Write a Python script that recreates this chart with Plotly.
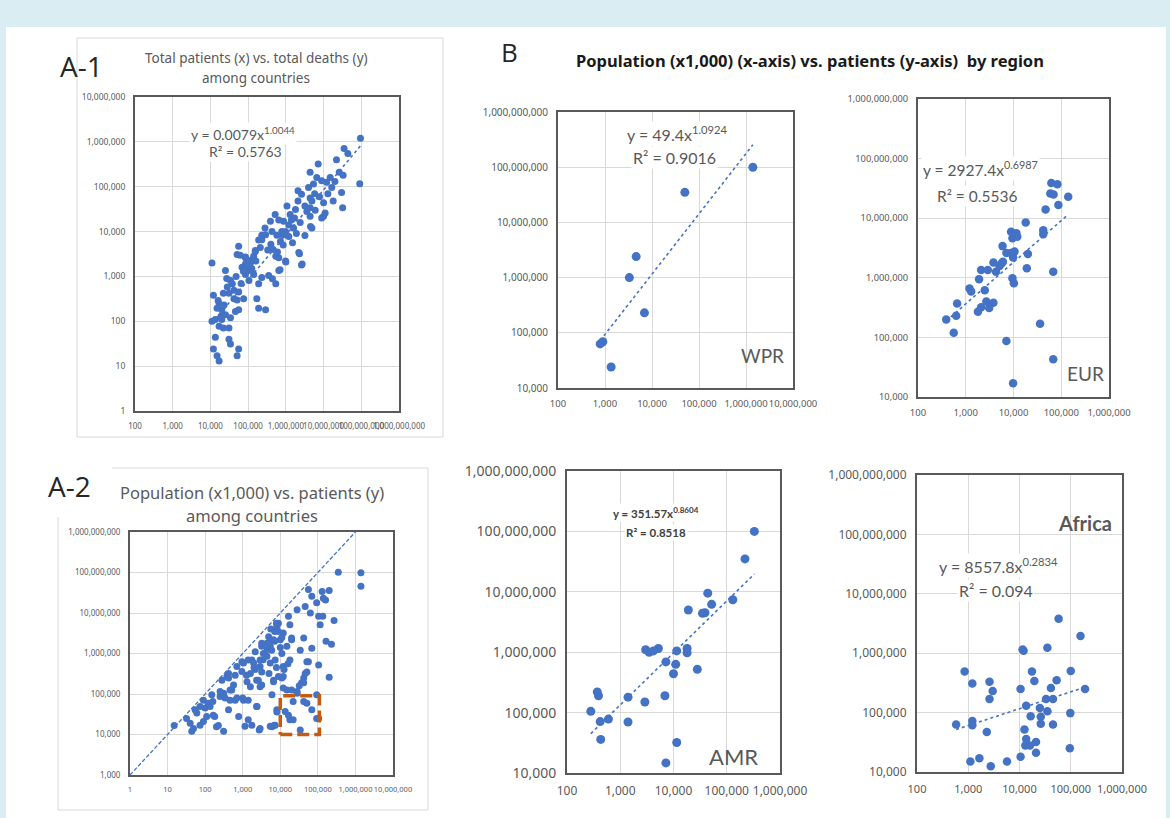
import plotly.graph_objects as go

W, H = 1170, 818

# ---------------- data ----------------
# A-1: total patients (x) vs total deaths (y)
a1_patients = [1.1e4, 1.2e4, 1.1e4, 1.2e4, 1.5e4, 1.7e4, 1.35e4, 3.1e4, 3.4e4, 5.6e4,
               5.1e4, 1.7e4, 2.0e4, 1.9e4, 2.5e4, 1.7e4, 2.2e4, 3.1e4, 3.4e4, 1.35e4,
               2.5e4, 3.4e4, 3.8e4, 4.2e4, 3.1e4, 2.2e4, 5.6e4, 5.1e4, 5.6e4, 4.6e4,
               7.6e4, 1.7e5, 1.9e5, 2.9e5, 6.9e4, 8.5e4, 1.05e5, 8.5e4, 1.15e5, 5.6e4,
               5.1e4, 8.5e4, 1.4e5, 1.55e5, 2.1e5, 2.3e5, 2.9e5, 1.9e5, 2.3e5, 3.5e5,
               4.4e5, 5.4e5, 6.5e5, 9.8e5, 5.4e5, 6.5e5, 7.2e5, 8.0e5, 9.8e5, 1.2e6,
               1.5e6, 2.2e6, 2.7e6, 4.5e6, 1.5e4, 2.0e4, 2.8e4, 4.2e4, 1.05e5, 1.4e5,
               9.5e7, 3.5e7, 4.4e7, 9.1e7, 2.2e7, 2.6e7, 3.3e7, 7.2e6, 4.4e6, 6.6e6,
               8.9e6, 1.2e7, 1.65e7, 4.0e6, 5.4e6, 3.0e7, 3.2e7, 2.6e6, 4.4e6, 4.9e6,
               1.0e7, 1.1e7, 8.9e6, 2.1e6, 1.07e6, 1.8e6, 1.3e6, 4.4e6, 4.9e6, 4.4e6,
               5.2e5, 6.5e5, 3.9e5, 2.8e5, 8.7e5, 1.2e6, 1.6e6, 1.9e6, 2.3e5, 1.9e5,
               1.55e5, 4.3e5, 5.8e5, 7.8e5, 1.07e6, 8.5e4, 2.1e6, 3.2e6, 1.8e7, 1.0e7,
               2.6e6, 3.2e6, 1.0e6, 7.0e5, 2.3e6, 6.2e4, 1.25e5,
               1.6e4, 2.3e4, 2.7e4, 4.8e4, 6.5e4, 7.5e4, 9.5e4, 1.2e5, 1.6e5, 3.3e5,
               4.0e5, 4.6e5, 6.0e5, 8.5e5, 1.4e6, 1.7e6, 2.4e6, 3.6e6, 5.8e6, 6.0e6,
               7.8e6, 1.3e7, 1.5e7, 2.0e7]
a1_deaths = [2.0e3, 380, 100, 24, 17, 13, 44, 40, 31, 24,
             17, 250, 180, 130, 140, 78, 71, 71, 120, 110,
             1350, 810, 690, 490, 420, 420, 450, 300, 180, 165,
             320, 320, 195, 180, 1600, 1100, 1350, 1900, 2000, 4700,
             3100, 2600, 2800, 3600, 4400, 6600, 8500, 690, 950, 1050,
             890, 690, 1350, 2200, 2800, 2600, 6000, 8500, 1.0e4, 7800,
             5600, 3400, 1900, 1.3e4, 195, 110, 580, 320, 810, 1100,
             1.2e6, 7.1e5, 5.5e5, 1.17e5, 4.0e5, 2.1e5, 1.8e5, 3.2e5, 2.1e5, 1.6e5,
             1.35e5, 1.25e5, 9.6e4, 9.6e4, 1.15e5, 7.4e4, 3.4e4, 6.8e4, 5.6e4, 4.8e4,
             4.4e4, 2.6e4, 2.0e4, 4.8e4, 3.7e4, 3.1e4, 2.4e4, 2.2e4, 1.2e4, 3.4e4,
             2.4e4, 1.8e4, 1.7e4, 1.2e4, 1.7e4, 1.4e4, 1.2e4, 9100, 8300, 6500,
             3800, 1.0e4, 8300, 1.0e4, 8300, 2700, 8.1e4, 3.7e4, 4.8e4, 2.2e4,
             1800, 8200, 2100, 1400, 3200, 2950, 1500,
             290, 230, 900, 1000, 700, 1300, 1700, 2300, 2200, 3900,
             5200, 4000, 3500, 5000, 1.8e4, 2.0e4, 1.6e4, 2.8e4, 7.0e4, 3.0e4,
             6.0e4, 7.0e4, 1.6e5, 1.3e5]
a1_fit_coef, a1_fit_exp = 0.0079, 1.0044

# A-2: population (x1,000) vs patients
a2_population = [15, 32, 40, 44, 49, 60, 73, 100, 90, 73,
                 54, 135, 150, 165, 225, 310, 250, 310, 280, 380,
                 420, 510, 460, 420, 630, 780, 700, 1050, 1050, 1400,
                 1260, 1600, 1150, 1400, 1750, 2350, 2750, 1750, 2150, 2350,
                 2900, 2900, 3550, 3200, 4400, 4900, 5400, 4400, 5400, 5900,
                 6600, 8100, 8900, 7300, 6600, 5400, 7300, 8100, 1.0e4, 1.1e4,
                 1.2e4, 1.2e4, 8900, 1.1e4, 1.5e4, 1.65e4, 1.8e4, 2.0e4, 1.8e4, 1.5e4,
                 1.35e4, 1.65e4, 1.8e4, 3.4e4, 2.8e4, 2.8e4, 3.4e4, 4.2e4, 4.6e4, 6.3e4,
                 4.6e4, 5.1e4, 4.2e4, 5.1e4, 6.9e4, 6.9e4, 5.6e4, 6.9e4, 9.3e4, 1.05e5,
                 1.15e5, 1.35e5, 1.3e5, 1.4e5, 1.05e5, 9.3e4, 9.3e4, 1.65e5, 2.0e5, 2.3e5,
                 2.7e5, 2.0e5, 3.5e5, 1.4e6, 1.4e6, 90, 110, 120, 160, 180,
                 200, 250, 340, 700, 1000, 460, 570, 420, 630, 950,
                 1300, 1600, 1950, 2600, 3200, 2900, 3200, 2150, 1400, 950,
                 6600, 6000, 6000, 3500, 4500, 5600, 7100, 7900, 1.6e5, 2.0e4,
                 5.6e4, 3.7e4, 1.2e4, 1.2e4, 2.0e4, 2.2e4, 2.2e4, 4.2e4, 1.05e5, 8100,
                 6900, 2400, 2900, 5.1e4, 4.2e4, 3.2e4, 2.8e4, 2000, 3200, 5000,
                 7900, 1.26e4, 1.6e4, 5600, 8900, 1.1e4, 7100, 1.0e4, 5000]
a2_patients = [1.66e4, 2.5e4, 1.9e4, 1.2e4, 1.4e4, 3.4e4, 1.7e4, 4.5e4, 7.0e4, 4.9e4,
               4.1e4, 4.9e4, 9.6e4, 3.0e4, 1.66e4, 1.2e4, 8.7e4, 1.05e5, 2.2e5, 2.7e5,
               3.2e5, 1.26e5, 7.0e4, 4.1e4, 7.0e4, 2.8e4, 4.8e5, 5.8e5, 7.0e4, 7.0e4,
               2.9e5, 3.2e5, 1.6e4, 2.3e4, 1.7e4, 4.9e4, 1.3e4, 6.9e5, 4.0e5, 2.2e5,
               1.5e5, 6.9e5, 1.0e6, 1.5e6, 1.8e6, 2.6e6, 1.5e6, 8.5e5, 5.8e5, 1.2e6,
               2.2e6, 4.7e6, 5.6e6, 6.9e5, 2.2e5, 1.6e4, 1.7e4, 4.1e4, 2.2e6, 1.0e6,
               3.2e6, 4.8e5, 2.7e5, 2.5e5, 1.5e6, 8.3e6, 5.1e6, 2.2e6, 6.9e5, 1.26e5,
               3.7e4, 3.0e4, 2.3e4, 1.3e4, 1.05e5, 1.2e7, 1.2e6, 2.4e6, 1.45e7, 1.0e7,
               3.2e5, 6.3e5, 1.9e5, 5.9e4, 4.1e4, 1.35e6, 3.8e7, 2.6e7, 1.8e7, 8.3e6,
               5.1e6, 8.3e6, 3.4e7, 2.3e7, 5.2e5, 9.6e4, 2.5e4, 2.0e6, 3.6e7, 1.7e6,
               6.5e6, 2.6e5, 1.02e8, 9.8e7, 4.6e7, 2.1e4, 2.8e4, 5.9e4, 6.5e4, 2.8e4,
               1.55e4, 1.15e5, 8.0e4, 8.0e4, 8.0e4, 1.26e5, 1.67e5, 2.5e5, 2.9e5, 3.6e5,
               2.0e5, 1.5e5, 5.8e5, 2.2e5, 1.67e5, 4.8e5, 1.8e6, 1.1e6, 6.9e5, 6.3e5,
               2.0e5, 9.6e4, 1.55e4, 7.0e5, 1.26e6, 2.0e6, 3.5e6, 5.6e6, 2.1e7, 2.4e6,
               6.3e5, 1.9e5, 2.7e5, 1.4e5, 1.26e5, 6.5e4, 2.3e4, 6.5e4, 2.5e4, 3.6e4,
               1.7e4, 4.9e4, 1.4e4, 3.5e5, 2.5e5, 1.6e5, 1.15e5, 4.5e5, 3.5e5, 3.2e5,
               4.5e5, 4.0e5, 5.6e5, 4.0e6, 3.5e6, 2.5e6, 2.0e6, 1.4e6, 1.6e6]
parity_population = [1, 1e6]          # patients = population x 1,000
patients_per_population_unit = 1000
box_population = [1e4, 1.1e5]
box_patients = [1e4, 9e4]

# B: by region
wpr_population = [1.4e6, 5.0e4, 4600, 3300, 6900, 790, 900, 1350]
wpr_patients = [1.0e8, 3.5e7, 2.4e6, 1.0e6, 2.3e5, 6.3e4, 6.9e4, 2.4e4]
wpr_fit_coef, wpr_fit_exp = 49.4, 1.0924

eur_population = [390, 560, 630, 660, 1200, 1300, 1900, 2100, 2900, 1800,
                  2100, 2500, 2700, 3100, 3800, 3800, 4300, 5100, 5600, 6000,
                  5900, 7100, 7100, 8900, 9500, 1.05e4, 8900, 9800, 1.05e4, 9500,
                  1.02e4, 9800, 1.8e4, 2.0e4, 1.9e4, 4.2e4, 4.2e4, 3.6e4, 4.7e4, 6.2e4,
                  5.9e4, 6.9e4, 8.3e4, 8.7e4, 1.4e5, 6.8e4, 6.8e4, 1.15e4, 1.2e4]
eur_patients = [2.0e5, 1.2e5, 2.3e5, 3.7e5, 6.6e5, 5.9e5, 9.5e5, 1.35e6, 1.35e6, 2.7e5,
                3.2e5, 6.2e5, 4.0e5, 3.1e5, 3.8e5, 1.8e6, 1.26e6, 1.58e6, 1.74e6, 1.86e6,
                3.4e6, 2.6e6, 8.7e4, 5.9e6, 4.6e6, 5.2e6, 2.6e6, 2.2e6, 2.75e6, 9.8e5,
                8.1e5, 1.7e4, 8.5e6, 2.5e6, 1.45e6, 6.3e6, 5.4e6, 1.7e5, 1.4e7, 3.9e7,
                2.6e7, 2.5e7, 3.7e7, 1.66e7, 2.3e7, 1.26e6, 4.3e4, 5.6e6, 4.9e6]
eur_fit_coef, eur_fit_exp = 2927.4, 0.6987

amr_population = [3.3e5, 2.2e5, 1.3e5, 4.4e4, 5.2e4, 3.5e4, 3.9e4, 1.9e4, 1.8e4, 1.8e4,
                  1.15e4, 1.1e4, 1.0e4, 2.8e4, 7200, 6900, 1.15e4, 7200, 3000, 3500,
                  4200, 5200, 2900, 1400, 1400, 600, 420, 430, 280, 370, 390]
amr_patients = [1.0e8, 3.5e7, 7.4e6, 9.5e6, 6.2e6, 4.4e6, 4.5e6, 5.0e6, 1.15e6, 9.8e5,
                1.05e6, 6.3e5, 4.4e5, 5.2e5, 6.9e5, 1.9e5, 3.2e4, 1.47e4, 1.1e6, 1.0e6,
                1.05e6, 1.15e6, 1.5e5, 1.8e5, 7.0e4, 7.8e4, 7.1e4, 3.6e4, 1.05e5, 2.2e5, 1.9e5]
amr_fit_coef, amr_fit_exp = 351.57, 0.8604

afr_population = [5.8e4, 1.55e5, 3.5e4, 1.15e4, 1.2e4, 1.0e5, 1.75e4, 1.95e4, 5.3e4, 4.1e4,
                  1.05e4, 1.9e5, 3.3e4, 4.5e4, 1.35e4, 2.5e4, 3.5e4, 1.65e4, 2.6e4, 2.6e4,
                  4.5e4, 9.8e4, 1.25e4, 1.35e4, 1.3e4, 1.6e4, 2.1e4, 2.1e4, 1.05e4, 9.6e4,
                  5700, 2750, 1650, 1100, 2300, 2600, 3000, 2600, 1200, 850,
                  1200, 1200, 580]
afr_patients = [3.8e6, 1.95e6, 1.23e6, 1.15e6, 1.1e6, 5.0e5, 4.9e5, 3.4e5, 3.5e5, 2.6e5,
                2.5e5, 2.5e5, 1.7e5, 1.7e5, 1.3e5, 1.2e5, 1.05e5, 8.7e4, 8.5e4, 6.5e4,
                6.3e4, 9.8e4, 5.2e4, 3.6e4, 2.8e4, 2.8e4, 3.2e4, 2.1e4, 1.8e4, 2.5e4,
                1.5e4, 1.25e4, 1.7e4, 1.5e4, 4.7e4, 1.7e5, 2.3e5, 3.3e5, 3.1e5, 4.9e5,
                7.2e4, 6.1e4, 6.3e4]
afr_fit_coef, afr_fit_exp = 8557.8, 0.2834

# ---------------- styling ----------------
BLUE = "#4472c4"
GRID = "#d9d9d9"
FRAME = "#595959"
TXT = "#595959"
BG = "#daedf3"
FONT = "Lato"


def fx(px):
    return px / W


def fy(py):
    return 1 - py / H


# panel plot-area pixel bounds: (left, right, top, bottom), ranges, tick font sizes
panels = [
    ("x", "y", (135, 399, 97, 411), [2, 9], [0, 7], 8, 8.5),
    ("x2", "y2", (130, 393, 532, 775), [0, 7], [3, 9], 7.5, 8),
    ("x3", "y3", (558, 793, 112, 388), [2, 7], [4, 9], 9.5, 10),
    ("x4", "y4", (918, 1109, 99, 397), [2, 6], [4, 9], 9.5, 9.3),
    ("x5", "y5", (567, 780, 471, 773), [2, 6], [4, 9], 12, 14),
    ("x6", "y6", (917, 1122, 475, 772), [2, 6], [4, 9], 11, 12),
]


def fit_line(xs, a, b):
    xr = [min(xs), max(xs)]
    return xr, [a * v ** b for v in xr]


fig = go.Figure()

series = [
    (a1_patients, a1_deaths, "x", "y", 7, (a1_fit_coef, a1_fit_exp)),
    (a2_population, a2_patients, "x2", "y2", 7, None),
    (wpr_population, wpr_patients, "x3", "y3", 9, (wpr_fit_coef, wpr_fit_exp)),
    (eur_population, eur_patients, "x4", "y4", 8.5, (eur_fit_coef, eur_fit_exp)),
    (amr_population, amr_patients, "x5", "y5", 9, (amr_fit_coef, amr_fit_exp)),
    (afr_population, afr_patients, "x6", "y6", 8.5, (afr_fit_coef, afr_fit_exp)),
]

for xs, ys, xa, ya, ms, fit in series:
    fig.add_trace(go.Scatter(x=xs, y=ys, mode="markers", xaxis=xa, yaxis=ya,
                             marker=dict(color=BLUE, size=ms, line=dict(width=0)),
                             showlegend=False, hoverinfo="x+y"))
    if fit:
        lx, ly = fit_line(xs, *fit)
        fig.add_trace(go.Scatter(x=lx, y=ly, mode="lines", xaxis=xa, yaxis=ya,
                                 line=dict(color=BLUE, width=1.6, dash="dot"),
                                 showlegend=False, hoverinfo="skip"))

# parity diagonal on A-2
fig.add_trace(go.Scatter(x=parity_population,
                         y=[p * patients_per_population_unit for p in parity_population],
                         mode="lines", xaxis="x2", yaxis="y2",
                         line=dict(color=BLUE, width=1.3, dash="4px,2px"),
                         showlegend=False, hoverinfo="skip"))
# orange highlight box on A-2
bx = [box_population[0], box_population[1], box_population[1], box_population[0], box_population[0]]
by = [box_patients[0], box_patients[0], box_patients[1], box_patients[1], box_patients[0]]
fig.add_trace(go.Scatter(x=bx, y=by, mode="lines", xaxis="x2", yaxis="y2",
                         line=dict(color="#c55a11", width=3.5, dash="12px,5px"),
                         showlegend=False, hoverinfo="skip"))

layout = dict(
    template="none",
    width=W, height=H, margin=dict(l=0, r=0, t=0, b=0, pad=0, autoexpand=False),
    paper_bgcolor=BG, plot_bgcolor="white", showlegend=False,
    font=dict(family=FONT, color=TXT),
)

for i, (xa, ya, (l, r, t, b), xr, yr, xfs, yfs) in enumerate(panels):
    kx = "xaxis" if i == 0 else f"xaxis{i + 1}"
    ky = "yaxis" if i == 0 else f"yaxis{i + 1}"
    xt = [10 ** k for k in range(xr[0], xr[1] + 1)]
    yt = [10 ** k for k in range(yr[0], yr[1] + 1)]
    common = dict(type="log", showgrid=True, gridcolor=GRID, gridwidth=1.4,
                  showline=True, mirror=True, linecolor=FRAME, linewidth=2,
                  zeroline=False, ticks="", tickangle=0, fixedrange=True,
                  ticklabelstandoff=6, automargin=False)
    layout[kx] = dict(common, domain=[fx(l), fx(r)], range=xr, anchor=ya,
                      tickvals=xt, ticktext=[f"{v:,}" for v in xt],
                      tickfont=dict(size=xfs, color=TXT, family="Noto Sans"))
    layout[ky] = dict(common, domain=[fy(b), fy(t)], range=yr, anchor=xa,
                      tickvals=yt, ticktext=[f"{v:,}" for v in yt],
                      tickfont=dict(size=yfs, color=TXT, family="Noto Sans"))

fig.update_layout(**layout)


def hline(x0, x1, y):
    return dict(type="line", xref="paper", yref="paper", x0=fx(x0), x1=fx(x1), y0=fy(y), y1=fy(y),
                line=dict(color=GRID, width=1), layer="below")


def vline(x, y0, y1):
    return dict(type="line", xref="paper", yref="paper", x0=fx(x), x1=fx(x), y0=fy(y0), y1=fy(y1),
                line=dict(color=GRID, width=1), layer="below")


shapes = [
    dict(type="rect", xref="paper", yref="paper", x0=fx(6), x1=fx(1166), y0=0, y1=fy(27),
         fillcolor="white", line=dict(width=0), layer="below"),
    dict(type="rect", xref="paper", yref="paper", x0=fx(77), x1=fx(443), y0=fy(437), y1=fy(38),
         line=dict(color=GRID, width=1), layer="below"),
    hline(112, 428, 468), hline(58, 428, 810),
    vline(58, 517, 810), vline(428, 468, 810),
]
fig.update_layout(shapes=shapes)


def ann(text, px, py, size, color=TXT, bold=False, bg=None, xanchor="center", family=FONT):
    d = dict(text=f"<b>{text}</b>" if bold else text, x=fx(px), y=fy(py),
             xref="paper", yref="paper", showarrow=False, xanchor=xanchor, yanchor="middle",
             font=dict(size=size, color=color, family=family))
    if bg:
        d.update(bgcolor=bg, borderpad=1)
    return d


annotations = [
    ann("A-1", 58, 66, 28, color="#262626", xanchor="left", family="Open Sans"),
    ann("A-2", 46, 486, 28, color="#262626", xanchor="left", family="Open Sans"),
    ann("B", 499, 52, 26, color="#262626", xanchor="left", family="Open Sans"),
    ann("Total patients (x) vs. total deaths (y)", 256, 58, 13.5, family="Noto Sans"),
    ann("among countries", 256, 78, 13.5, family="Noto Sans"),
    ann("Population (x1,000) vs. patients (y)", 252, 492, 16.5, family="Noto Sans"),
    ann("among countries", 252, 515, 16.5, family="Noto Sans"),
    ann("Population (x1,000) (x-axis) vs. patients (y-axis)  by region", 810, 60, 16.5,
        color="#1a1a1a", bold=True, family="Noto Sans"),
    # equations
    ann("y = 0.0079x<sup>1.0044</sup>", 243, 133, 14, bg="white"),
    ann("R² = 0.5763", 245, 152, 14, bg="white"),
    ann("y = 49.4x<sup>1.0924</sup>", 677, 133, 16, bg="white"),
    ann("R² = 0.9016", 675, 158, 16, bg="white"),
    ann("y = 2927.4x<sup>0.6987</sup>", 921, 168, 15.5, bg="white", xanchor="left"),
    ann("R² = 0.5536", 977, 196, 15.5, bg="white"),
    ann("y = 351.57x<sup>0.8604</sup>", 656, 512, 11.5, color="#404040", bold=True, bg="white"),
    ann("R² = 0.8518", 656, 532, 11.5, color="#404040", bold=True, bg="white"),
    ann("y = 8557.8x<sup>0.2834</sup>", 998, 565, 16, bg="white"),
    ann("R² = 0.094", 996, 590, 16, bg="white"),
    # region labels
    ann("WPR", 762, 355, 19),
    ann("EUR", 1085, 373, 19),
    ann("AMR", 733, 756, 22),
    ann("Africa", 1085, 523, 20, bold=True),
]
fig.update_layout(annotations=annotations)

post = ("document.documentElement.style.margin='0';document.body.style.margin='0';"
        "document.body.style.padding='0';document.body.style.background='" + BG + "';")
fig.write_html("out.html", post_script=post)
